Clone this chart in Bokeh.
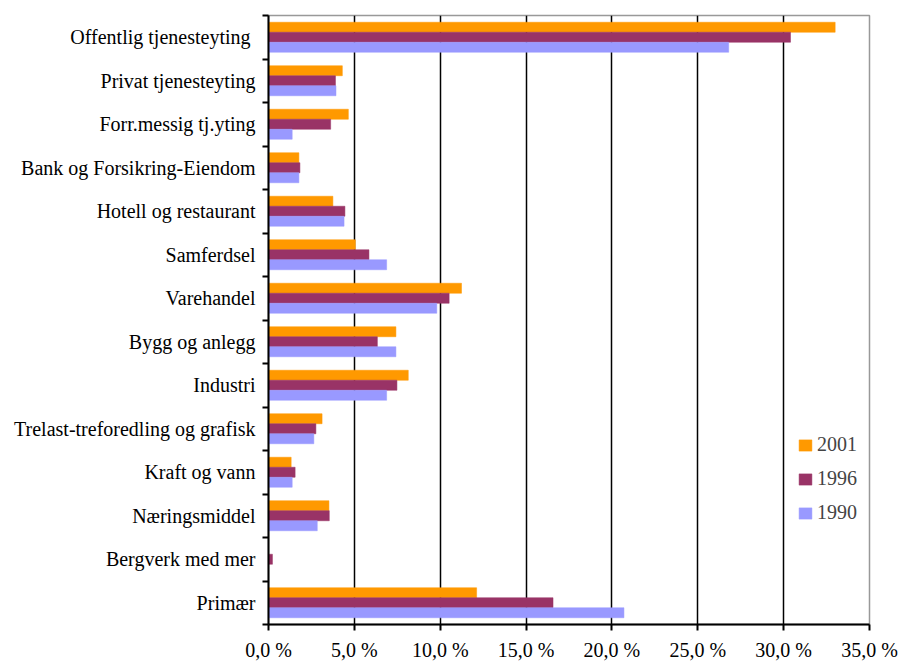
from bokeh.plotting import figure
from bokeh.models import ColumnDataSource, FixedTicker, Range1d, Legend
from bokeh.embed import file_html
from bokeh.resources import INLINE

categories = [
    "Offentlig  tjenesteyting",
    "Privat tjenesteyting",
    "Forr.messig tj.yting",
    "Bank og Forsikring-Eiendom",
    "Hotell og restaurant",
    "Samferdsel",
    "Varehandel",
    "Bygg og anlegg",
    "Industri",
    "Trelast-treforedling og grafisk",
    "Kraft og vann",
    "Næringsmiddel",
    "Bergverk med mer",
    "Primær",
]
v2001 = [33.0, 4.3, 4.65, 1.77, 3.75, 5.06, 11.24, 7.42, 8.14, 3.12, 1.32, 3.52, 0.0, 12.12]
v1996 = [30.4, 3.9, 3.62, 1.83, 4.45, 5.85, 10.52, 6.34, 7.48, 2.76, 1.55, 3.54, 0.23, 16.57]
v1990 = [26.8, 3.93, 1.38, 1.77, 4.4, 6.88, 9.8, 7.42, 6.88, 2.64, 1.38, 2.84, 0.0, 20.7]
years = ["2001", "1996", "1990"]
colors = ["#FF9900", "#993366", "#9999FF"]
x_ticks = [0, 5, 10, 15, 20, 25, 30, 35]
x_tick_labels = ["0,0 %", "5,0 %", "10,0 %", "15,0 %", "20,0 %", "25,0 %", "30,0 %", "35,0 %"]

n = len(categories)
centers = [n - 0.5 - i for i in range(n)]
bh = 0.23
offsets = [bh, 0.0, -bh]

FONT = "Liberation Serif"

p = figure(width=901, height=663, output_backend="svg", toolbar_location=None,
           x_range=Range1d(0, 35), y_range=Range1d(0, n),
           min_border_left=268, min_border_right=32, min_border_top=15, min_border_bottom=36)

renderers = []
for vals, off, col, yr in zip([v2001, v1996, v1990], offsets, colors, years):
    src = ColumnDataSource(dict(y=[c + off for c in centers], v=vals))
    r = p.hbar(y="y", right="v", left=0, height=bh, source=src,
               fill_color=col, line_color=col, line_alpha=0.5)
    renderers.append((yr, [r]))

legend = Legend(items=renderers, location=(525, 96), label_text_font=FONT,
                label_text_font_size="20px", glyph_width=16, glyph_height=14,
                label_height=20, spacing=11, padding=4, label_standoff=4,
                background_fill_alpha=0, border_line_alpha=0)
p.add_layout(legend)

# x axis
p.xaxis.ticker = FixedTicker(ticks=x_ticks)
p.xaxis.major_label_overrides = {t: l for t, l in zip(x_ticks, x_tick_labels)}
p.xaxis.major_label_text_font = FONT
p.xaxis.major_label_text_font_size = "20px"
p.xaxis.major_label_text_color = "black"
p.xaxis.major_label_standoff = 8
p.xaxis.axis_line_width = 2
p.xaxis.axis_line_color = "black"
p.xaxis.major_tick_line_width = 2
p.xaxis.major_tick_line_color = "black"
p.xaxis.major_tick_out = 6
p.xaxis.major_tick_in = 0
p.xaxis.minor_tick_line_color = None

# y axis
p.yaxis.ticker = FixedTicker(ticks=centers, minor_ticks=list(range(n + 1)))
p.yaxis.major_label_overrides = {c: name for c, name in zip(centers, categories)}
p.yaxis.major_label_text_font = FONT
p.yaxis.major_label_text_font_size = "20px"
p.yaxis.major_label_text_color = "black"
p.yaxis.major_label_standoff = 7
p.yaxis.major_tick_line_color = None
p.yaxis.major_tick_out = 0
p.yaxis.major_tick_in = 0
p.yaxis.minor_tick_line_color = "black"
p.yaxis.minor_tick_line_width = 2
p.yaxis.minor_tick_out = 6
p.yaxis.minor_tick_in = 0
p.yaxis.axis_line_width = 2
p.yaxis.axis_line_color = "black"

# grid
p.ygrid.grid_line_color = None
p.xgrid.ticker = FixedTicker(ticks=x_ticks[1:-1])
p.xgrid.grid_line_color = "black"
p.xgrid.grid_line_width = 1.5

p.outline_line_color = "#999999"
p.outline_line_width = 1.5
p.background_fill_color = "white"
p.border_fill_color = "white"

open("out.html", "w").write(file_html(p, INLINE))
